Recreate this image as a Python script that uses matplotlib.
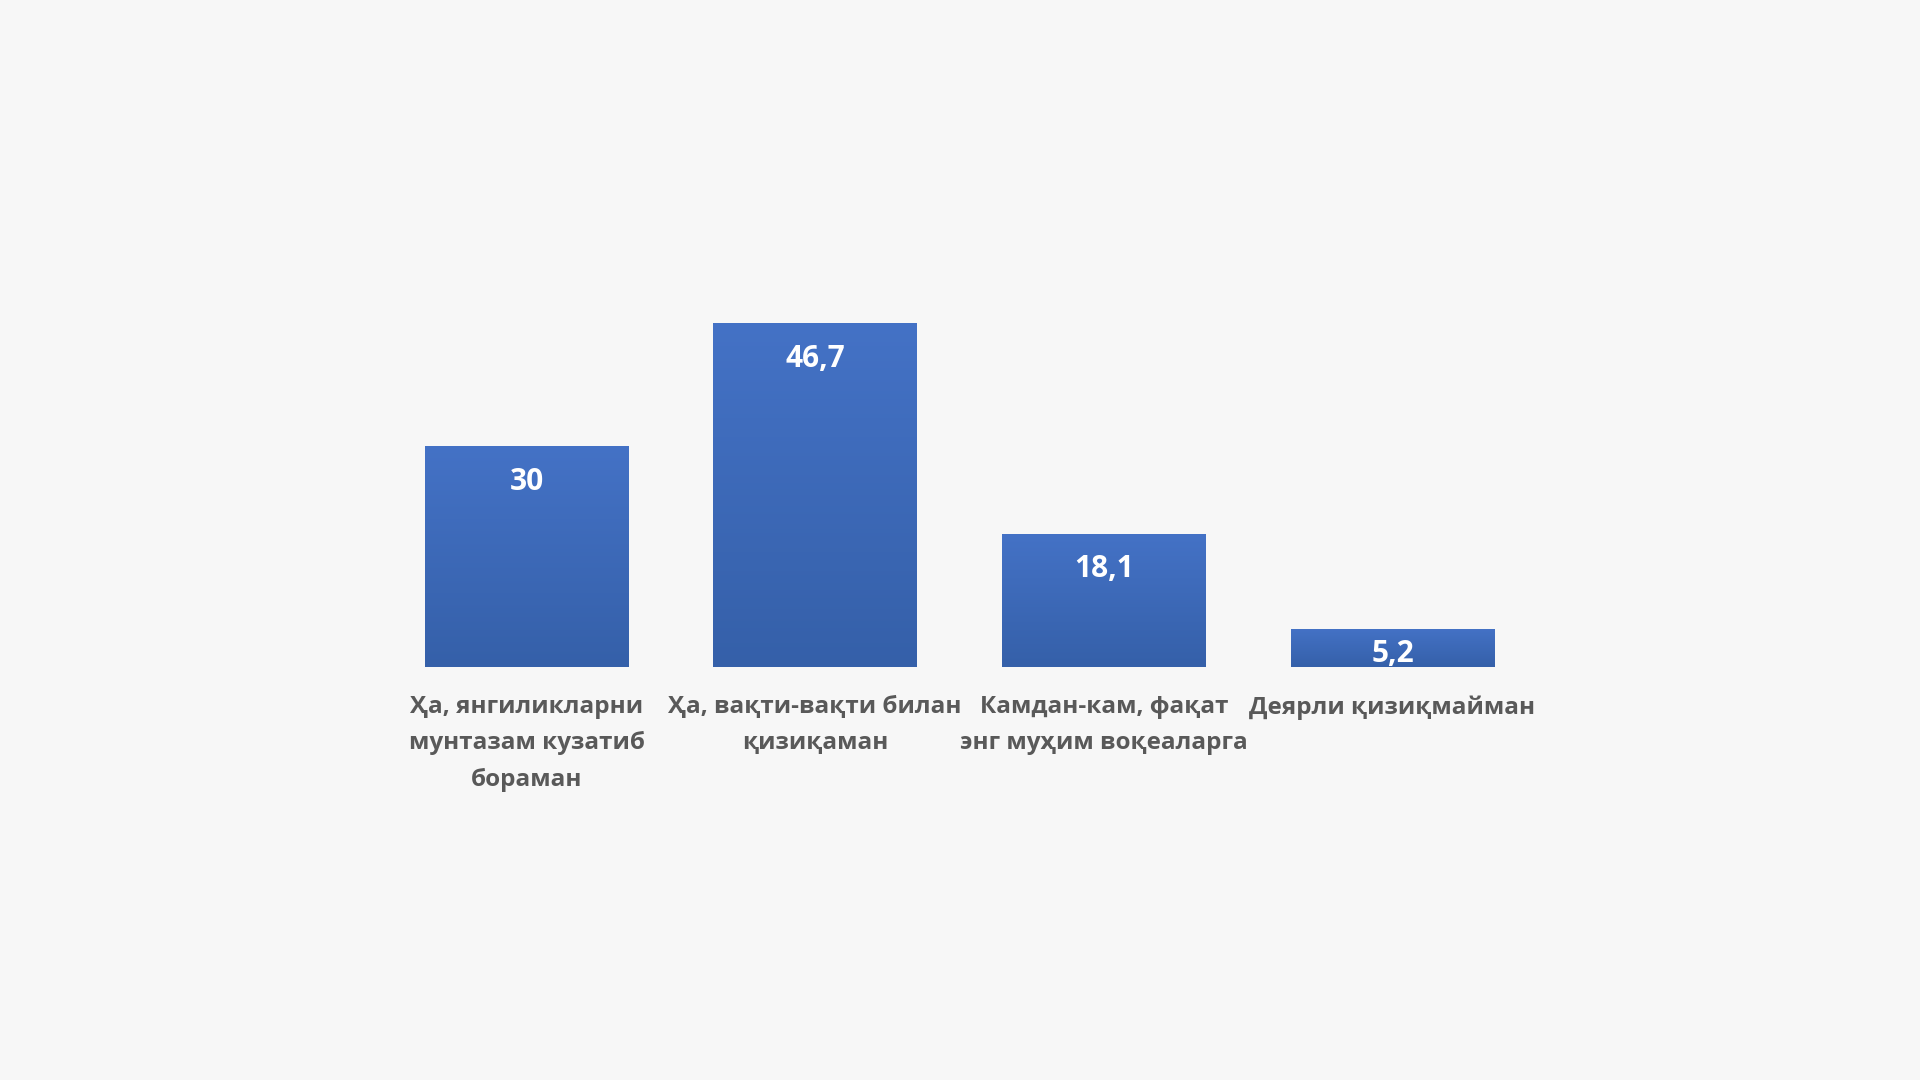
import numpy as np
import matplotlib
matplotlib.use("Agg")
import matplotlib.pyplot as plt
from matplotlib.colors import LinearSegmentedColormap

categories = [
    "Ҳа, янгиликларни\nмунтазам кузатиб\nбораман",
    "Ҳа, вақти-вақти билан\nқизиқаман",
    "Камдан-кам, фақат\nэнг муҳим воқеаларга",
    "Деярли қизиқмайман",
]
values = [30, 46.7, 18.1, 5.2]
value_labels = ["30", "46,7", "18,1", "5,2"]

plt.rcParams['font.family'] = ['Open Sans', 'Noto Sans', 'DejaVu Sans']

bg = "#F7F7F7"
fig = plt.figure(figsize=(19.2, 10.8), dpi=100, facecolor=bg)
ax = fig.add_axes([0.1991, 0.3824, 0.6013, 0.3412])
ax.set_facecolor(bg)
for s in ax.spines.values():
    s.set_visible(False)
ax.set_xticks([])
ax.set_yticks([])

cmap = LinearSegmentedColormap.from_list("g", ["#3560A9", "#4472C6"])
grad = np.linspace(0, 1, 256).reshape(-1, 1)

x = np.arange(len(values))
bars = ax.bar(x, values, width=0.705, color="none", edgecolor="none")
for b in bars:
    x0, w, h = b.get_x(), b.get_width(), b.get_height()
    im = ax.imshow(grad, cmap=cmap, aspect="auto", origin="lower",
                   extent=[x0, x0 + w, 0, h], zorder=2)
    im.set_clip_path(b)
ax.set_xlim(-0.5, len(values) - 0.5)
ax.set_ylim(0, 50)

for xi, v, lab in zip(x, values, value_labels):
    y = max(v - 4.85, v / 2 - 0.8)
    ax.text(xi, y, lab, ha="center", va="center", color="white",
            fontsize=21.5, fontweight="bold", zorder=3)

for xi, cat in zip(x, categories):
    ax.text(xi, -0.076, cat, transform=ax.get_xaxis_transform(),
            ha="center", va="top", color="#595959", fontsize=17.5,
            fontweight="bold", linespacing=1.68)

fig.savefig("out.png", dpi=100, facecolor=bg)
